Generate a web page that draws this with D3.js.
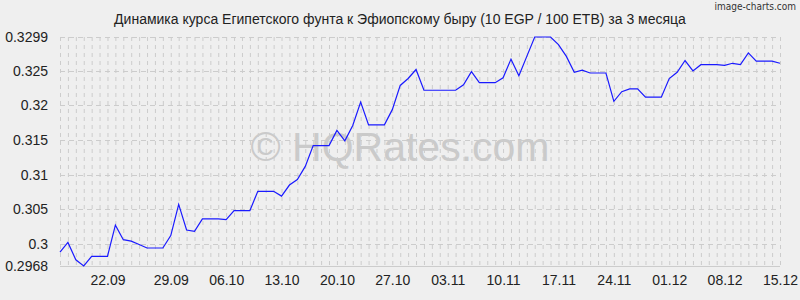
<!DOCTYPE html>
<html>
<head>
<meta charset="utf-8">
<script src="https://cdn.jsdelivr.net/npm/d3@7"></script>
<style>
    body { margin: 0; background: #efefef; }
    svg { display: block; font-family: 'Liberation Sans', Arial, sans-serif; }
</style>
</head>
<body>
<div id="chart"></div>
<script>
// Data: EGP/ETB, one value per point (index based x axis)
const rates = [
    0.2988, 0.3002, 0.2977, 0.2968, 0.2982, 0.2982, 0.2982, 0.3027, 0.3006, 0.3004,
    0.2999, 0.2994, 0.2994, 0.2994, 0.3012, 0.3057, 0.3020, 0.3018, 0.3036, 0.3036,
    0.3036, 0.3035, 0.3048, 0.3048, 0.3048, 0.3076, 0.3076, 0.3076, 0.3069, 0.3085,
    0.3093, 0.3112, 0.3142, 0.3142, 0.3142, 0.3164, 0.3149, 0.3171, 0.3205, 0.3172,
    0.3172, 0.3172, 0.3194, 0.3229, 0.3239, 0.3252, 0.3222, 0.3222, 0.3222, 0.3222,
    0.3222, 0.3230, 0.3249, 0.3233, 0.3233, 0.3233, 0.3240, 0.3267, 0.3243, 0.3271,
    0.3299, 0.3299, 0.3299, 0.3288, 0.3271, 0.3248, 0.3251, 0.3247, 0.3247, 0.3247,
    0.3206, 0.3220, 0.3224, 0.3224, 0.3212, 0.3212, 0.3212, 0.3239, 0.3248, 0.3265,
    0.3250, 0.3259, 0.3259, 0.3259, 0.3258, 0.3261, 0.3259, 0.3276, 0.3264, 0.3264,
    0.3264, 0.3261
];

const xTickLabels = ['22.09', '29.09', '06.10', '13.10', '20.10', '27.10', '03.11',
    '10.11', '17.11', '24.11', '01.12', '08.12', '15.12'];
const xTickIndex = [6, 14, 21, 28, 35, 42, 49, 56, 63, 70, 77, 84, 91];

const yTickValues = [0.2968, 0.3, 0.305, 0.31, 0.315, 0.32, 0.325, 0.3299];
const yTickLabels = ['0.2968', '0.3', '0.305', '0.31', '0.315', '0.32', '0.325', '0.3299'];

const titleText = 'Динамика курса Египетского фунта к Эфиопскому быру (10 EGP / 100 ETB) за 3 месяца';

const chart = {
    totalWidth: 800,
    totalHeight: 300,
    margin: { top: 37, bottom: 34, left: 60, right: 20 }
};
chart.width = chart.totalWidth - (chart.margin.left + chart.margin.right);
chart.height = chart.totalHeight - (chart.margin.top + chart.margin.bottom);

const svg = d3.select('#chart')
    .append('svg')
    .attr('width', chart.totalWidth)
    .attr('height', chart.totalHeight);

svg.append('rect')
    .attr('width', chart.totalWidth)
    .attr('height', chart.totalHeight)
    .attr('fill', '#efefef');

const xScale = d3.scaleLinear()
    .domain([0, rates.length - 1])
    .range([chart.margin.left, chart.margin.left + chart.width]);

const yScale = d3.scaleLinear()
    .domain([d3.min(rates), d3.max(rates)])
    .range([chart.margin.top + chart.height, chart.margin.top]);

// Watermark
svg.append('text')
    .attr('x', 400)
    .attr('y', 161)
    .attr('text-anchor', 'middle')
    .attr('font-size', 41)
    .attr('fill', '#cacaca')
    .text('© HQRates.com');

// Grid
const grid = svg.append('g').classed('grid', true);

grid.selectAll('line.v')
    .data(d3.range(rates.length))
    .enter()
    .append('line')
    .classed('v', true)
    .attr('x1', d => xScale(d) + 0.5)
    .attr('x2', d => xScale(d) + 0.5)
    .attr('y1', yScale.range()[1])
    .attr('y2', yScale.range()[0])
    .attr('stroke', '#cccccc')
    .attr('stroke-dasharray', '4,4');

grid.selectAll('line.h')
    .data(yTickValues)
    .enter()
    .append('line')
    .classed('h', true)
    .attr('x1', xScale.range()[0])
    .attr('x2', xScale.range()[1])
    .attr('y1', d => Math.round(yScale(d)) + 0.5)
    .attr('y2', d => Math.round(yScale(d)) + 0.5)
    .attr('stroke', '#cccccc')
    .attr('stroke-dasharray', (d, i) => i === 0 ? null : '5,4');

// Y axis
const yAxis = d3.axisLeft(yScale)
    .tickValues(yTickValues)
    .tickFormat((d, i) => yTickLabels[i])
    .tickSize(0)
    .tickPadding(12);

svg.append('g')
    .classed('y-axis', true)
    .attr('transform', `translate(${chart.margin.left}, 0)`)
    .call(yAxis)
    .call(g => g.select('.domain').remove())
    .selectAll('text')
    .attr('font-size', 14)
    .attr('font-family', "'Liberation Sans', Arial, sans-serif")
    .attr('fill', '#222');

// X axis
const xAxis = d3.axisBottom(xScale)
    .tickValues(xTickIndex)
    .tickFormat((d, i) => xTickLabels[i])
    .tickSize(0)
    .tickPadding(9);

svg.append('g')
    .classed('x-axis', true)
    .attr('transform', `translate(0, ${chart.margin.top + chart.height})`)
    .call(xAxis)
    .call(g => g.select('.domain').remove())
    .selectAll('text')
    .attr('font-size', 14)
    .attr('font-family', "'Liberation Sans', Arial, sans-serif")
    .attr('fill', '#222');

// Line
const line = d3.line()
    .x((d, i) => xScale(i))
    .y(d => yScale(d));

svg.append('path')
    .datum(rates)
    .attr('d', line)
    .attr('fill', 'none')
    .attr('stroke', '#1a1aff')
    .attr('stroke-width', 1.2);

// Title
svg.append('text')
    .attr('x', 400)
    .attr('y', 24)
    .attr('text-anchor', 'middle')
    .attr('font-size', 14)
    .attr('fill', '#222')
    .text(titleText);

svg.append('text')
    .attr('x', 796)
    .attr('y', 10)
    .attr('text-anchor', 'end')
    .attr('font-size', 10)
    .attr('font-family', "'DejaVu Sans Condensed', sans-serif")
    .attr('fill', '#333')
    .text('image-charts.com');
</script>
</body>
</html>
